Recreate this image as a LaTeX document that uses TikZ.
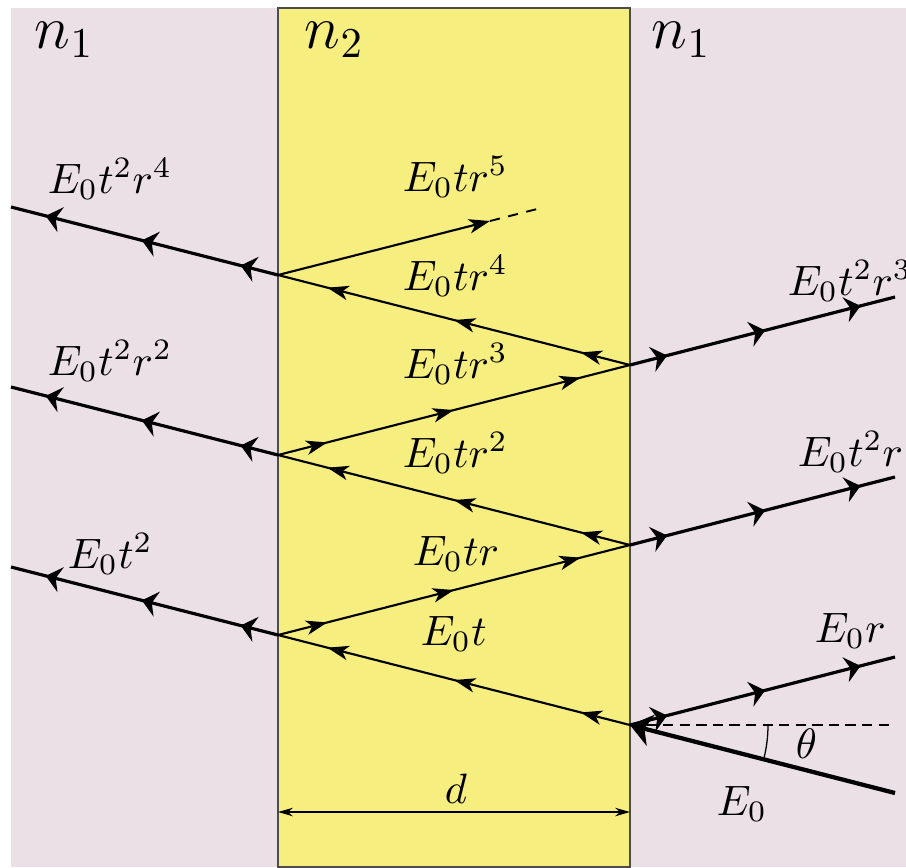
\documentclass[tikz,border=0pt]{standalone}
\usetikzlibrary{arrows.meta,decorations.markings}
\definecolor{bgpink}{RGB}{236,224,231}
\definecolor{slab}{RGB}{247,238,128}
\tikzset{
  outerarrow/.tip={Stealth[length=3.6pt,width=6pt,inset=1.2pt]},
  innerarrow/.tip={Stealth[length=5pt,width=3.4pt,inset=1.4pt]},
  outerray/.style={line width=0.75pt, postaction={decorate}, decoration={markings,
    mark=at position 0.14 with {\arrow{outerarrow}},
    mark=at position 0.51 with {\arrow{outerarrow}},
    mark=at position 0.87 with {\arrow{outerarrow}}}},
  innerray/.style={line width=0.5pt, postaction={decorate}, decoration={markings,
    mark=at position 0.14 with {\arrow{innerarrow}},
    mark=at position 0.5 with {\arrow{innerarrow}},
    mark=at position 0.86 with {\arrow{innerarrow}}}},
  lab/.style={inner sep=0pt, anchor=base west},
  medlab/.style={lab, font=\Large},
  thinline/.style={line width=0.3pt},
}
\begin{document}
\begin{tikzpicture}[x=0.2353pt, y=-0.2353pt]
\useasboundingbox (0,0) rectangle (906,867);
% regions
\fill[bgpink] (11,8) rectangle (906,867);
\filldraw[fill=slab, draw=black!70, line width=0.3pt] (278,8) rectangle (630,867);
% points
\coordinate (S) at (895,793);
\coordinate (R0) at (630,725);
\coordinate (R1) at (630,545);
\coordinate (R2) at (630,365);
\coordinate (L1) at (278,635);
\coordinate (L2) at (278,455);
\coordinate (L3) at (278,275);
\coordinate (OL1) at (11,567);
\coordinate (OL2) at (11,387);
\coordinate (OL3) at (11,207);
\coordinate (OR0) at (895,657);
\coordinate (OR1) at (895,477);
\coordinate (OR2) at (895,297);
\coordinate (T1) at (490,221);
\coordinate (T2) at (543,207.5);
\coordinate (H) at (895,725);
\coordinate (D1) at (278,812);
\coordinate (D2) at (630,812);
% horizontal reference and angle
\draw[thinline, dash pattern=on 2.4pt off 1.5pt] (R0) -- (H);
\draw[thinline] ([shift={(0:138)}]R0) arc[start angle=0, end angle=14.4, radius=138];
% incident ray
\draw[line width=1pt, -{Stealth[length=5pt,width=7.5pt,inset=1.5pt]}] (S) -- (R0);
% outer rays
\draw[outerray] (R0) -- (OR0);
\draw[outerray] (R1) -- (OR1);
\draw[outerray] (R2) -- (OR2);
\draw[outerray] (L1) -- (OL1);
\draw[outerray] (L2) -- (OL2);
\draw[outerray] (L3) -- (OL3);
% inner rays
\draw[innerray] (R0) -- (L1);
\draw[innerray] (L1) -- (R1);
\draw[innerray] (R1) -- (L2);
\draw[innerray] (L2) -- (R2);
\draw[innerray] (R2) -- (L3);
\draw[line width=0.5pt, -{innerarrow}] (L3) -- (T1);
\draw[line width=0.45pt, dash pattern=on 2.4pt off 2pt] (T1) -- (T2);
% thickness
\draw[thinline, {Stealth[length=3.5pt,width=2pt]}-{Stealth[length=3.5pt,width=2pt]}] (D1) -- (D2);
% labels
\node[medlab] (n1l) at (34,48) {$n_1$};
\node[medlab] (n2) at (304,48) {$n_2$};
\node[medlab] (n1r) at (651,48) {$n_1$};
\node[lab] (a1) at (47,193) {$E_0t^2r^4$};
\node[lab] (a2) at (402,191) {$E_0tr^5$};
\node[lab] (a3) at (402,290) {$E_0tr^4$};
\node[lab] (a4) at (787,295) {$E_0t^2r^3$};
\node[lab] (a5) at (47,375) {$E_0t^2r^2$};
\node[lab] (a6) at (402,378) {$E_0tr^3$};
\node[lab] (a7) at (402,467) {$E_0tr^2$};
\node[lab] (a8) at (797,466) {$E_0t^2r$};
\node[lab] (a9) at (67,568) {$E_0t^2$};
\node[lab] (a10) at (412,565) {$E_0tr$};
\node[lab] (a11) at (420,645) {$E_0t$};
\node[lab] (a12) at (814,642) {$E_0r$};
\node[lab] (th) at (795,758) {$\theta$};
\node[lab] (e0) at (716,815) {$E_0$};
\node[lab] (dl) at (444,803) {$d$};
\end{tikzpicture}
\end{document}
